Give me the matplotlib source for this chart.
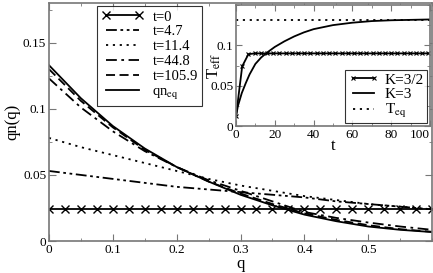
import numpy as np
import matplotlib
matplotlib.use("Agg")
import matplotlib.pyplot as plt
from matplotlib.ticker import MultipleLocator

plt.rcParams['font.family'] = ['Liberation Serif', 'DejaVu Serif']
plt.rcParams['mathtext.fontset'] = 'stix'

# main panel: qn(q) at several times
q = [0.0, 0.05, 0.1, 0.15, 0.2, 0.25, 0.3, 0.35, 0.4, 0.45, 0.5, 0.55, 0.6]
qn_t47 = [0.053, 0.050, 0.047, 0.044, 0.041, 0.039, 0.037, 0.035, 0.033, 0.030, 0.028, 0.026, 0.024]
qn_t114 = [0.078, 0.071, 0.065, 0.059, 0.053, 0.047, 0.042, 0.038, 0.034, 0.031, 0.028, 0.026, 0.024]
qn_t448 = [0.123, 0.101, 0.083, 0.068, 0.056, 0.046, 0.038, 0.030, 0.022, 0.0175, 0.014, 0.011, 0.0085]
qn_t1059 = [0.130, 0.106, 0.086, 0.069, 0.056, 0.045, 0.036, 0.028, 0.021, 0.016, 0.012, 0.009, 0.007]
qn_eq = [0.133, 0.108, 0.087, 0.070, 0.056, 0.045, 0.035, 0.027, 0.020, 0.015, 0.011, 0.0085, 0.0068]

q0 = [0.0, 0.025, 0.05, 0.075, 0.1, 0.125, 0.15, 0.175, 0.2, 0.225, 0.25, 0.275, 0.3,
      0.325, 0.35, 0.375, 0.4, 0.425, 0.45, 0.475, 0.5, 0.525, 0.55, 0.575, 0.6]
qn_t0 = [0.024] * len(q0)

# inset: effective temperature vs time
t_k15 = [0.0, 3.2, 6.4, 9.6, 12.8, 16.0, 19.2, 22.4, 25.6, 28.8, 32.0, 35.2, 38.4, 41.6,
         44.8, 48.0, 51.2, 54.4, 57.6, 60.8, 64.0, 67.2, 70.4, 73.6, 76.8, 80.0, 83.2,
         86.4, 89.6, 92.8, 96.0, 99.2]
T_k15 = [0.012, 0.074, 0.089] + [0.090] * 29
t_k3 = [0, 1, 2, 3, 5, 7, 10, 13, 16, 20, 25, 30, 35, 40, 50, 60, 70, 80, 90, 100]
T_k3 = [0.012, 0.025, 0.033, 0.041, 0.053, 0.064, 0.077, 0.085, 0.091, 0.098, 0.105,
        0.111, 0.116, 0.120, 0.125, 0.128, 0.130, 0.131, 0.1315, 0.132]
T_eq = 0.1316

fig = plt.figure(figsize=(4.33, 2.73), dpi=100)
ax = fig.add_axes([0.113, 0.117, 0.885, 0.872])

lw = 1.3
ax.plot(q0, qn_t0, color='black', lw=lw, marker='x', ms=6, mew=1.0, label='t=0')
ax.plot(q, qn_t47, color='black', lw=lw, dashes=[6, 2, 1.5, 2, 1.5, 2], label='t=4.7')
ax.plot(q, qn_t114, color='black', lw=lw, dashes=[1.2, 2.6], label='t=11.4')
ax.plot(q, qn_t448, color='black', lw=lw, dashes=[6, 2.5, 1.5, 2.5], label='t=44.8')
ax.plot(q, qn_t1059, color='black', lw=lw, dashes=[5, 2.5], label='t=105.9')
ax.plot(q, qn_eq, color='black', lw=lw, label=r'qn$_{\rm eq}$')

ax.set_xlim(0, 0.6)
ax.set_ylim(0, 0.18)
ax.set_xticks([0, 0.1, 0.2, 0.3, 0.4, 0.5])
ax.set_xticklabels(['0', '0.1', '0.2', '0.3', '0.4', '0.5'])
ax.set_yticks([0, 0.05, 0.1, 0.15])
ax.set_yticklabels(['0', '0.05', '0.1', '0.15'])
ax.xaxis.set_minor_locator(MultipleLocator(0.05))
ax.yaxis.set_minor_locator(MultipleLocator(0.025))
ax.tick_params(which='both', direction='in', top=True, right=True, color='#777777',
               labelsize=9.5, pad=2)
ax.tick_params(which='major', length=5)
ax.tick_params(which='minor', length=2.5)
for s in ax.spines.values():
    s.set_color('#777777')
    s.set_linewidth(1.2)
ax.set_xlabel('q', fontsize=12, labelpad=0)
ax.set_ylabel('qn(q)', fontsize=12, labelpad=2)

leg = ax.legend(loc='upper left', bbox_to_anchor=(0.118, 1.0), fontsize=10.5,
                frameon=True, fancybox=False, edgecolor='black', handlelength=2.9,
                numpoints=2, borderpad=0.3, labelspacing=0.12, handletextpad=0.6,
                borderaxespad=0.2)
leg.get_frame().set_linewidth(0.8)

# inset
ins = fig.add_axes([0.545, 0.538, 0.448, 0.444])
ins.plot(t_k15, T_k15, color='black', lw=1.3, marker='x', ms=3.5, mew=0.8, label='K=3/2')
ins.plot(t_k3, T_k3, color='black', lw=1.3, label='K=3')
ins.axhline(T_eq, color='black', lw=1.3, dashes=[1.2, 2.6], label=r'T$_{\rm eq}$')
ins.set_xlim(0, 100)
ins.set_ylim(0, 0.15)
ins.set_xticks([0, 20, 40, 60, 80, 100])
ins.set_yticks([0, 0.05, 0.1])
ins.set_yticklabels(['0', '0.05', '0.1'])
ins.xaxis.set_minor_locator(MultipleLocator(10))
ins.yaxis.set_minor_locator(MultipleLocator(0.025))
ins.tick_params(which='both', direction='in', top=True, right=True, color='#777777',
                labelsize=9.5, pad=2)
ins.tick_params(which='major', length=4)
ins.tick_params(which='minor', length=2)
ins.get_xticklabels()[-1].set_horizontalalignment('right')
for s in ins.spines.values():
    s.set_color('#777777')
    s.set_linewidth(1.2)
ins.set_xlabel('t', fontsize=12, labelpad=-2)
ins.set_ylabel(r'T$_{\rm eff}$', fontsize=12, labelpad=-9)
leg2 = ins.legend(loc='lower right', fontsize=11, frameon=True, fancybox=False,
                  edgecolor='black', handlelength=2.0, numpoints=2, borderpad=0.2,
                  labelspacing=0.05, handletextpad=0.4, borderaxespad=0.2)
leg2.get_frame().set_linewidth(0.8)

fig.savefig('out.png', dpi=100)
